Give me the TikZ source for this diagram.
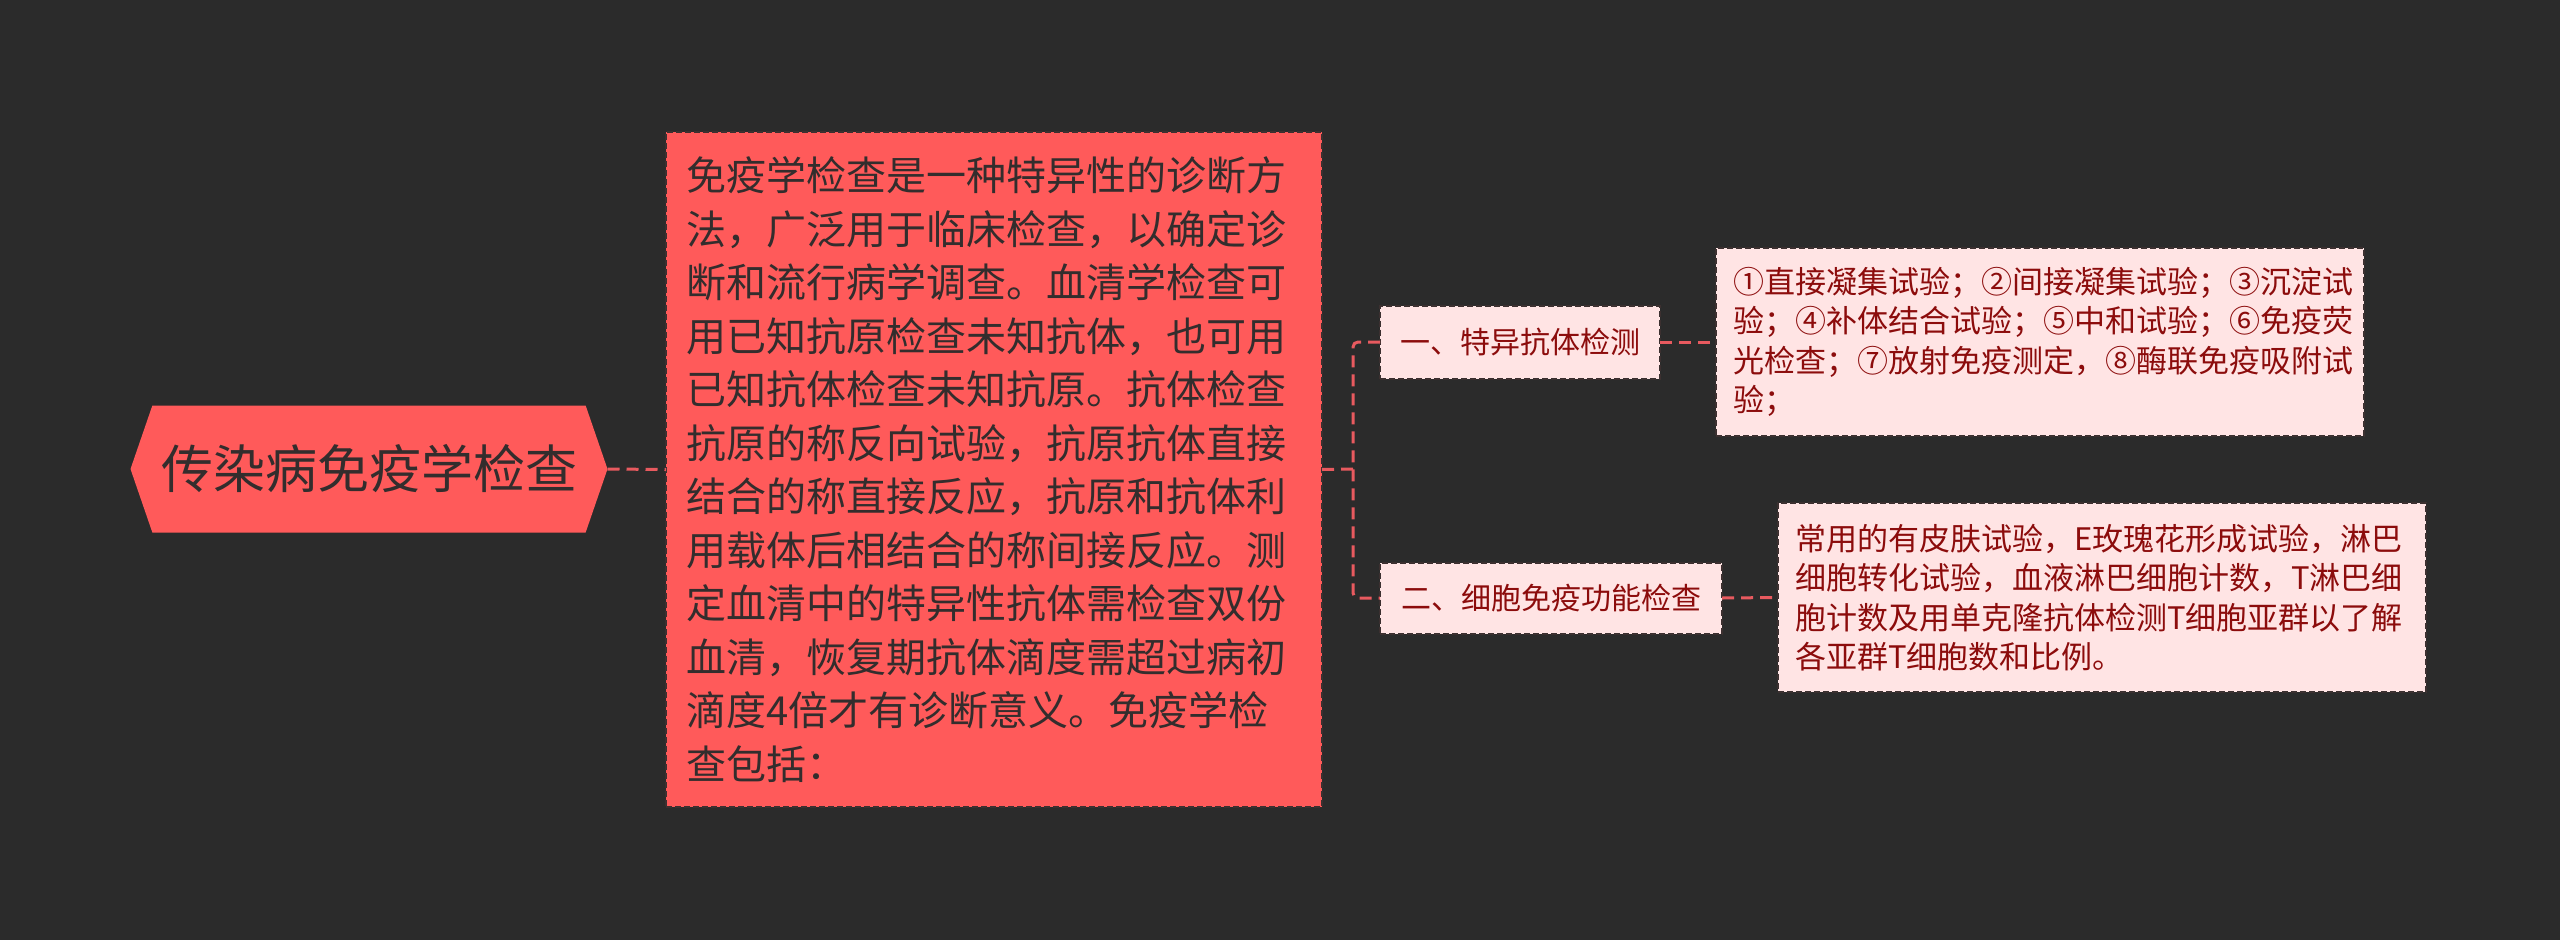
\documentclass[tikz,border=0pt]{standalone}
\usepackage{fontspec}
\newfontfamily\cjk{Noto Sans CJK SC}
\usepackage{tikz}
\usetikzlibrary{calc,positioning,shapes.symbols}
\definecolor{bgcol}{RGB}{43,43,43}
\definecolor{redfill}{RGB}{255,90,90}
\definecolor{pinkfill}{RGB}{255,228,228}
\definecolor{darktext}{RGB}{51,45,45}
\definecolor{redtext}{RGB}{140,12,12}
\definecolor{linkcol}{RGB}{232,90,95}
\definecolor{edgecol}{RGB}{60,48,48}

\begin{document}
\begin{tikzpicture}
[x=1pt,y=-1pt]

    \tikzstyle{every node}=[inner sep=0pt,outer sep=0pt,font=\cjk]
    \tikzstyle{link}=[draw=linkcol,line width=3pt,dash pattern=on 12pt off 7pt]
    \tikzstyle{redbox}=[fill=redfill,draw=edgecol,line width=2pt,
                        dash pattern=on 6pt off 3pt,text=darktext]
    \tikzstyle{pinkbox}=[fill=pinkfill,draw=edgecol,line width=2pt,
                         dash pattern=on 6pt off 3pt,text=redtext]

    % page size and background
    \fill[bgcol] (0,0) rectangle (2560,940);
    \useasboundingbox (0,0) rectangle (2560,940);

    % the root: a flat hexagon
    \node (root) at (369,469) [signal,signal to=west and east,
        signal pointer angle=142,fill=redfill,text=darktext,
        minimum width=477pt,minimum height=127pt,
        font=\cjk\fontsize{52}{60}\selectfont] {传染病免疫学检查};

    % the long description
    \node (main) at (994,469.5) [redbox,minimum width=656pt,minimum height=675pt,
        text width=616pt,align=left,font=\cjk\fontsize{40}{53.5}\selectfont]
        {免疫学检查是一种特异性的诊断方\\
         法，广泛用于临床检查，以确定诊\\
         断和流行病学调查。血清学检查可\\
         用已知抗原检查未知抗体，也可用\\
         已知抗体检查未知抗原。抗体检查\\
         抗原的称反向试验，抗原抗体直接\\
         结合的称直接反应，抗原和抗体利\\
         用载体后相结合的称间接反应。测\\
         定血清中的特异性抗体需检查双份\\
         血清，恢复期抗体滴度需超过病初\\
         滴度4倍才有诊断意义。免疫学检\\
         查包括：};

    % the two branches
    \node (s1) at (1520,342) [pinkbox,minimum width=280pt,minimum height=73pt,
        font=\cjk\fontsize{30}{36}\selectfont] {一、特异抗体检测};
    \node (s2) at (1551,598) [pinkbox,minimum width=342pt,minimum height=71pt,
        font=\cjk\fontsize{30}{36}\selectfont] {二、细胞免疫功能检查};

    % their notes
    \node (n1) at (2040,342) [pinkbox,minimum width=648pt,minimum height=188pt,
        text width=614pt,align=left,font=\cjk\fontsize{31}{39.5}\selectfont]
        {①直接凝集试验；②间接凝集试验；③沉淀试\\
         验；④补体结合试验；⑤中和试验；⑥免疫荧\\
         光检查；⑦放射免疫测定，⑧酶联免疫吸附试\\
         验；};
    \node (n2) at (2102,597.5) [pinkbox,minimum width=648pt,minimum height=189pt,
        text width=614pt,align=left,font=\cjk\fontsize{31}{39.5}\selectfont]
        {常用的有皮肤试验，E玫瑰花形成试验，淋巴\\
         细胞转化试验，血液淋巴细胞计数，T淋巴细\\
         胞计数及用单克隆抗体检测T细胞亚群以了解\\
         各亚群T细胞数和比例。};

    % connectors
    \coordinate (fork) at (1353,469);
    \draw[link] (root.east) -- (main.west);
    \draw[link] (main.east) -- (fork);
    \draw[link,rounded corners=5pt] (s1.west) -- (fork |- s1.west)
        -- (fork |- s2.west) -- (s2.west);
    \draw[link] (s1.east) -- (n1.west);
    \draw[link] (s2.east) -- (n2.west);

\end{tikzpicture}
\end{document}
